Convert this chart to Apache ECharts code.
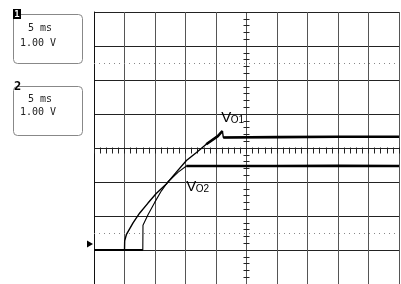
<!DOCTYPE html>
<html>
<head>
<meta charset="utf-8">
<script src="https://cdn.jsdelivr.net/npm/echarts@6/dist/echarts.min.js"></script>
<style>
html, body { margin: 0; padding: 0; background: #fff; }
#main { width: 401px; height: 284px; }
</style>
</head>
<body>
<div id="main"></div>
<script>
// scope screen: 5 ms/div horizontally, 1 V/div vertically
const vo1Time = [0, 5.0, 5.03, 5.3, 6.4, 7.5, 8.85, 10.2, 11.9, 13.5, 15.15, 16.8, 18.4, 20.3, 21.05, 21.2, 30, 40, 50];
const vo1Volt = [0, 0, 0.27, 0.45, 0.80, 1.09, 1.38, 1.66, 1.95, 2.29, 2.63, 2.87, 3.11, 3.35, 3.50, 3.31, 3.32, 3.33, 3.33];
const vo2Time = [0, 8.0, 8.03, 8.85, 9.95, 11.05, 12.1, 13.8, 15.15, 30, 40, 50];
const vo2Volt = [0, 0, 0.73, 1.04, 1.40, 1.74, 2.00, 2.29, 2.47, 2.47, 2.48, 2.47];
const vo1SettleIdx = 15;
const vo2SettleIdx = 8;
const markerLevels = [0.5, 5.5];
const groundLevel = 0.18;
const channels = [
  { name: '1', time: '5 ms', volt: '1.00 V' },
  { name: '2', time: '5 ms', volt: '1.00 V' }
];
const traceLabels = [
  { main: 'V', sub: 'O1', at: [20.85, 3.88] },
  { main: 'V', sub: 'O2', at: [15.11, 1.86] }
];

const pts = (t, v) => t.map((x, i) => [x, v[i]]);
const vo1 = pts(vo1Time, vo1Volt);
const vo2 = pts(vo2Time, vo2Volt);

const chart = echarts.init(document.getElementById('main'));

const trace = (data, w) => ({
  type: 'line', data: data, symbol: 'none', silent: true,
  lineStyle: { color: '#000', width: w }, clip: true
});

const option = {
  animation: false,
  grid: [
    { left: 94, top: 12, width: 305, height: 277 },
    { left: 94, top: 147.5, width: 305, height: 6 },
    { left: 243.5, top: 12, width: 6, height: 277 }
  ],
  xAxis: [
    {
      gridIndex: 0, type: 'value', min: 0, max: 50, interval: 5,
      axisLine: { show: false }, axisTick: { show: false }, axisLabel: { show: false },
      splitLine: { show: true, lineStyle: { color: '#555', width: 1 } }
    },
    {
      gridIndex: 1, type: 'value', min: 0, max: 50, interval: 1,
      axisLine: { show: false }, axisLabel: { show: false }, splitLine: { show: false },
      axisTick: { show: true, inside: true, length: 6, lineStyle: { color: '#222' } }
    },
    { gridIndex: 2, type: 'value', min: 0, max: 1, axisLine: { show: false },
      axisTick: { show: false }, axisLabel: { show: false }, splitLine: { show: false } }
  ],
  yAxis: [
    {
      gridIndex: 0, type: 'value', min: -1, max: 7, interval: 1,
      axisLine: { show: true, lineStyle: { color: '#111' } },
      axisTick: { show: false }, axisLabel: { show: false },
      splitLine: { show: true, lineStyle: { color: '#222', width: 1 } }
    },
    { gridIndex: 1, type: 'value', min: 0, max: 1, axisLine: { show: false },
      axisTick: { show: false }, axisLabel: { show: false }, splitLine: { show: false } },
    {
      // minor ticks along the centre vertical, counted in 1/5 divisions
      gridIndex: 2, type: 'value', min: 0, max: 40, interval: 1, position: 'left',
      axisLine: { show: false }, axisLabel: { show: false }, splitLine: { show: false },
      axisTick: { show: true, inside: true, length: 6, lineStyle: { color: '#222' } }
    }
  ],
  series: [
    Object.assign(trace(vo1, 1.4), {
      markLine: {
        silent: true, symbol: 'none', label: { show: false },
        lineStyle: { color: '#888', type: [1, 4], width: 1 },
        data: markerLevels.map(v => ({ yAxis: v }))
      },
      markPoint: {
        silent: true, symbol: 'triangle', symbolSize: [7, 6], symbolRotate: -90,
        symbolOffset: [-4, 0], itemStyle: { color: '#000' }, label: { show: false },
        data: [{ coord: [0, groundLevel] }]
      }
    }),
    trace(vo2, 1.1),
    trace(vo1.slice(vo1SettleIdx - 3, vo1SettleIdx), 2.6),
    trace(vo1.slice(vo1SettleIdx), 2.6),
    trace(vo2.slice(vo2SettleIdx), 2.6),
    trace(vo2.slice(0, 2), 2)
  ]
};
chart.setOption(option);

// channel boxes and trace names
const g = [];
channels.forEach((c, i) => {
  const top = i === 0 ? 14 : 86;
  g.push({ type: 'rect', shape: { x: 13.5, y: top + 0.5, width: 69, height: 49, r: 4 },
    style: { fill: 'none', stroke: '#888', lineWidth: 1 } });
  if (i === 0) {
    g.push({ type: 'rect', shape: { x: 13, y: 9, width: 8, height: 10 }, style: { fill: '#000' } });
    g.push({ type: 'text', style: { text: c.name, x: 17, y: 14.5, fill: '#fff',
      font: 'bold 9px "DejaVu Sans Mono"', align: 'center', verticalAlign: 'middle' } });
  } else {
    g.push({ type: 'text', style: { text: c.name, x: 17.5, y: top + 1, fill: '#000',
      font: 'bold 12px "DejaVu Sans Mono"', align: 'center', verticalAlign: 'middle' } });
  }
  g.push({ type: 'text', style: { text: c.time, x: 28, y: top + (i === 0 ? 14 : 13.5), fill: '#222',
    font: '10px "DejaVu Sans Mono"', verticalAlign: 'middle' } });
  g.push({ type: 'text', style: { text: c.volt, x: 20, y: top + (i === 0 ? 29 : 26), fill: '#222',
    font: '10px "DejaVu Sans Mono"', verticalAlign: 'middle' } });
});
traceLabels.forEach(l => {
  const p = chart.convertToPixel({ gridIndex: 0 }, l.at);
  g.push({ type: 'text', style: { text: l.main, x: p[0], y: p[1], fill: '#000',
    font: '15px "Liberation Sans"', verticalAlign: 'middle' } });
  g.push({ type: 'text', style: { text: l.sub, x: p[0] + 9.5, y: p[1] + 2.5, fill: '#000',
    font: '10px "Liberation Sans"', verticalAlign: 'middle' } });
});
chart.setOption({ graphic: g });
</script>
</body>
</html>
